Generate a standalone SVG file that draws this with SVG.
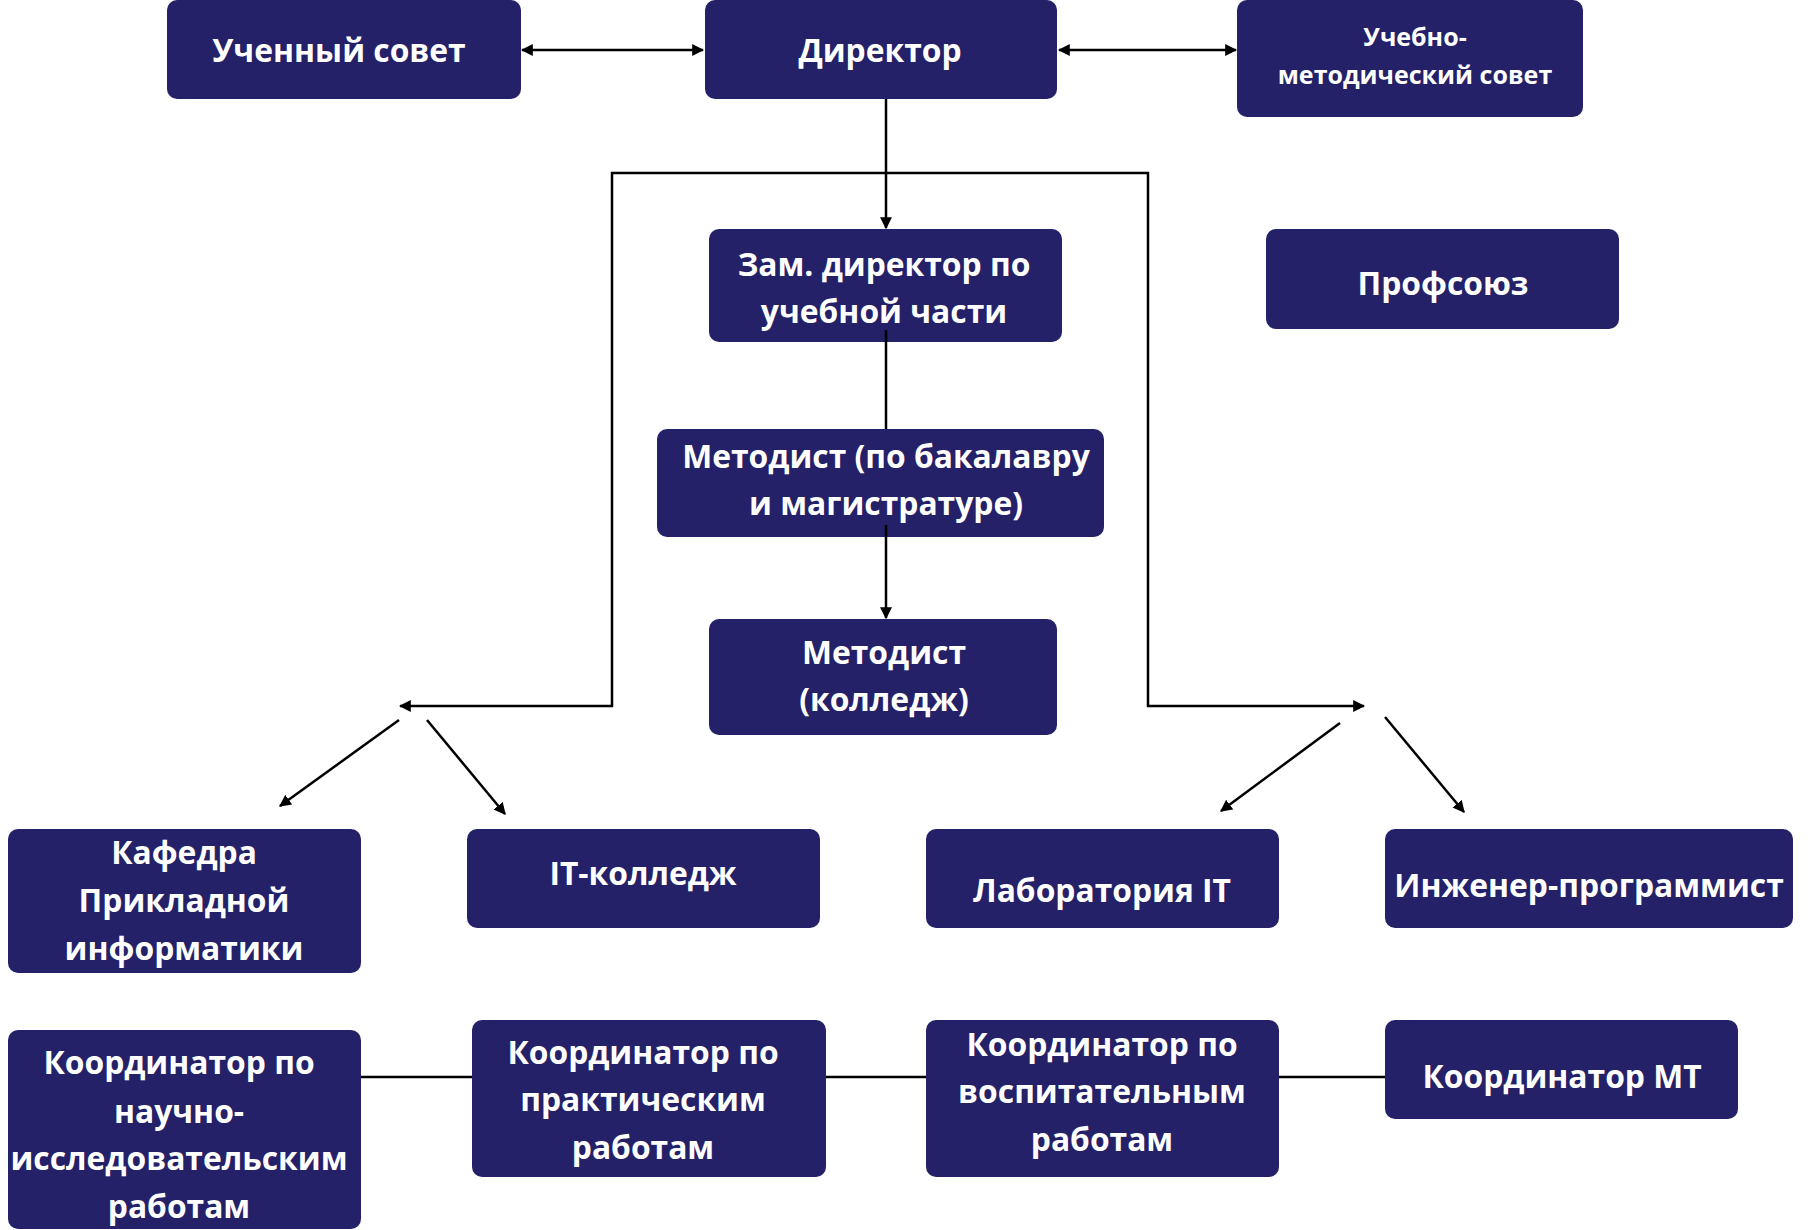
<svg xmlns="http://www.w3.org/2000/svg" width="1808" height="1230" viewBox="0 0 1808 1230">
<style>
.n{fill:#242168;}
.t{font-family:"Open Sans","Noto Sans","Liberation Sans",sans-serif;font-weight:700;fill:#fff;text-anchor:middle;font-size:31.8px;}
.s{font-size:25px;}
.c{stroke:#000;stroke-width:2.5;fill:none;}
</style>
<defs>
<marker id="a" viewBox="0 0 10 10" refX="9" refY="5" markerWidth="12" markerHeight="12" markerUnits="userSpaceOnUse" orient="auto-start-reverse"><path d="M0,0L10,5L0,10z" fill="#000"/></marker>
</defs>
<g id="connectors">
<line class="c" x1="522" y1="50" x2="703" y2="50" marker-start="url(#a)" marker-end="url(#a)"/>
<line class="c" x1="1059" y1="50" x2="1236" y2="50" marker-start="url(#a)" marker-end="url(#a)"/>
<line class="c" x1="886" y1="99" x2="886" y2="228" marker-end="url(#a)"/>
<polyline class="c" points="400,706 612,706 612,173 1148,173 1148,706 1364,706" marker-start="url(#a)" marker-end="url(#a)"/>
<line class="c" x1="399" y1="720" x2="280" y2="806" marker-end="url(#a)"/>
<line class="c" x1="427" y1="720" x2="505" y2="814" marker-end="url(#a)"/>
<line class="c" x1="1340" y1="723" x2="1221" y2="811" marker-end="url(#a)"/>
<line class="c" x1="1385" y1="717" x2="1464" y2="812" marker-end="url(#a)"/>
<line class="c" x1="361" y1="1077" x2="472" y2="1077"/>
<line class="c" x1="826" y1="1077" x2="926" y2="1077"/>
<line class="c" x1="1279" y1="1077" x2="1385" y2="1077"/>
</g>
<g id="n1"><rect class="n" x="167" y="0" width="354" height="99" rx="10"/><text class="t" x="339" y="62">Ученный совет</text></g>
<g id="n2"><rect class="n" x="705" y="0" width="352" height="99" rx="10"/><text class="t" x="880" y="62">Директор</text></g>
<g id="n3"><rect class="n" x="1237" y="0" width="346" height="117" rx="10"/><text class="t s" x="1415" y="46">Учебно-</text><text class="t s" x="1415" y="84">методический совет</text></g>
<g id="n4"><rect class="n" x="709" y="229" width="353" height="113" rx="10"/><text class="t" x="884" y="276">Зам. директор по</text><text class="t" x="884" y="323">учебной части</text></g>
<g id="n5"><rect class="n" x="1266" y="229" width="353" height="100" rx="10"/><text class="t" x="1443" y="295">Профсоюз</text></g>
<g id="c1"><line class="c" x1="886" y1="330" x2="886" y2="429"/></g>
<g id="n6"><rect class="n" x="657" y="429" width="447" height="108" rx="10"/><text class="t" x="886" y="468">Методист (по бакалавру</text><text class="t" x="886" y="515">и магистратуре)</text></g>
<g id="c2"><line class="c" x1="886" y1="525" x2="886" y2="618" marker-end="url(#a)"/></g>
<g id="n7"><rect class="n" x="709" y="619" width="348" height="116" rx="10"/><text class="t" x="884" y="664">Методист</text><text class="t" x="884" y="711">(колледж)</text></g>
<g id="n8"><rect class="n" x="8" y="829" width="353" height="144" rx="10"/><text class="t" x="184" y="864">Кафедра</text><text class="t" x="184" y="912">Прикладной</text><text class="t" x="184" y="960">информатики</text></g>
<g id="n9"><rect class="n" x="467" y="829" width="353" height="99" rx="10"/><text class="t" x="643" y="885">IT-колледж</text></g>
<g id="n10"><rect class="n" x="926" y="829" width="353" height="99" rx="10"/><text class="t" x="1102" y="902">Лаборатория IT</text></g>
<g id="n11"><rect class="n" x="1385" y="829" width="408" height="99" rx="10"/><text class="t" x="1589" y="897">Инженер-программист</text></g>
<g id="n12"><rect class="n" x="8" y="1030" width="353" height="199" rx="10"/><text class="t" x="179" y="1074">Координатор по</text><text class="t" x="179" y="1123">научно-</text><text class="t" x="179" y="1170">исследовательским</text><text class="t" x="179" y="1218">работам</text></g>
<g id="n13"><rect class="n" x="472" y="1020" width="354" height="157" rx="10"/><text class="t" x="643" y="1064">Координатор по</text><text class="t" x="643" y="1111">практическим</text><text class="t" x="643" y="1159">работам</text></g>
<g id="n14"><rect class="n" x="926" y="1020" width="353" height="157" rx="10"/><text class="t" x="1102" y="1056">Координатор по</text><text class="t" x="1102" y="1103">воспитательным</text><text class="t" x="1102" y="1151">работам</text></g>
<g id="n15"><rect class="n" x="1385" y="1020" width="353" height="99" rx="10"/><text class="t" x="1562" y="1088">Координатор МТ</text></g>
</svg>
